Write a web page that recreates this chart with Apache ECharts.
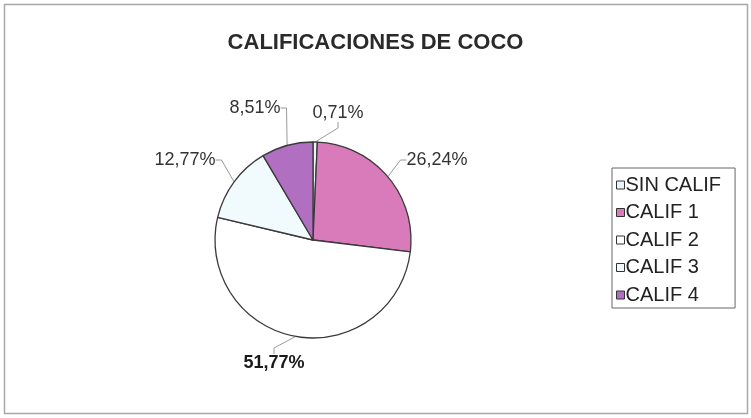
<!DOCTYPE html>
<html>
<head>
<meta charset="utf-8">
<script src="https://cdn.jsdelivr.net/npm/echarts@6/dist/echarts.min.js"></script>
<style>
  html, body { margin: 0; padding: 0; background: #fff; }
  #chart { width: 751px; height: 418px; }
</style>
</head>
<body>
<div id="chart"></div>
<script>
// Coconut grading shares
const categories = ['SIN CALIF', 'CALIF 1', 'CALIF 2', 'CALIF 3', 'CALIF 4'];
const shares = [0.71, 26.24, 51.77, 12.77, 8.51];
const sliceColors = ['#e8f4f8', '#d97bbb', '#ffffff', '#f1fafc', '#b06fc0'];

// Label anchor points around the pie, one per slice
const labelSpots = [
  { x: 338, y: 113 },
  { x: 437, y: 160 },
  { x: 274, y: 363 },
  { x: 185, y: 160 },
  { x: 255, y: 108 }
];

const fmt = v => v.toFixed(2).replace('.', ',') + '%';
const FONT = 'Liberation Sans, Arial, sans-serif';

const chart = echarts.init(document.getElementById('chart'));
chart.setOption({
  animation: false,
  backgroundColor: '#fff',
  textStyle: { fontFamily: FONT },
  graphic: [{
    type: 'rect',
    shape: { x: 4.5, y: 4.5, width: 743, height: 409 },
    style: { fill: 'none', stroke: '#a8a8a8', lineWidth: 1.5 },
    silent: true
  }],
  title: {
    text: 'CALIFICACIONES DE COCO',
    left: 'center',
    top: 27,
    textStyle: { fontSize: 22, fontWeight: 'bold', color: '#2a2a2a', fontFamily: FONT }
  },
  legend: {
    orient: 'vertical',
    left: 612,
    top: 168,
    padding: [7, 14, 3, 4],
    itemGap: 7.5,
    itemWidth: 8,
    itemHeight: 8,
    icon: 'rect',
    borderColor: '#666',
    borderWidth: 1,
    backgroundColor: '#fff',
    selectedMode: false,
    itemStyle: { borderColor: '#333', borderWidth: 1 },
    textStyle: { fontSize: 20, color: '#222', padding: [0, 0, 0, -4], lineHeight: 20, fontFamily: FONT },
    data: categories
  },
  series: [{
    type: 'pie',
    center: [313, 240],
    radius: 98,
    startAngle: 90,
    clockwise: true,
    avoidLabelOverlap: false,
    itemStyle: { borderColor: '#3a3a3a', borderWidth: 1.3 },
    label: {
      show: true,
      formatter: p => fmt(p.value),
      fontSize: 18,
      color: '#333',
      fontFamily: FONT
    },
    labelLine: {
      show: true,
      length: 10,
      length2: 6,
      lineStyle: { color: '#9a9a9a', width: 1 }
    },
    labelLayout: params => {
      const s = labelSpots[params.dataIndex];
      return { x: s.x, y: s.y, align: 'center', verticalAlign: 'middle' };
    },
    data: categories.map((name, i) => ({
      name,
      value: shares[i],
      itemStyle: { color: sliceColors[i] },
      label: i === 2 ? { fontWeight: 'bold', color: '#1a1a1a' } : undefined
    }))
  }]
});
</script>
</body>
</html>
